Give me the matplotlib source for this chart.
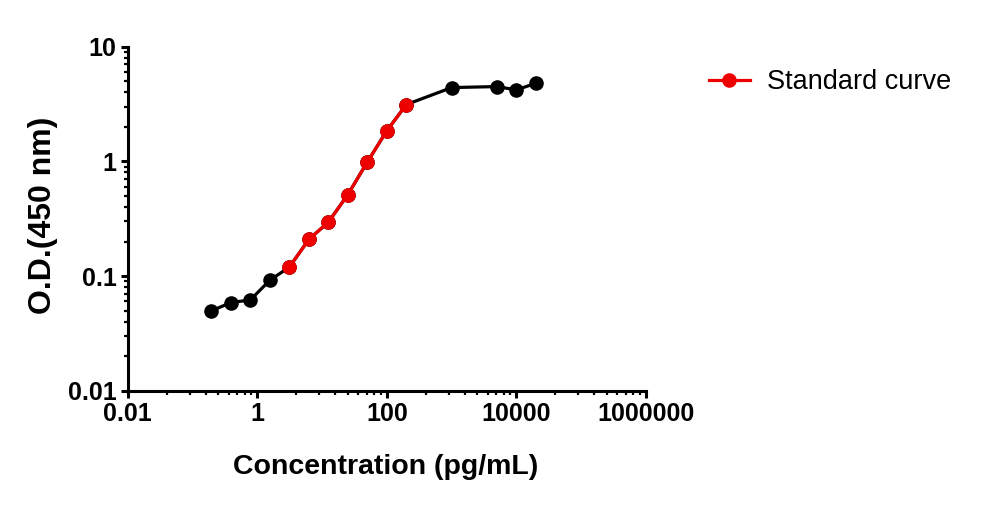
import numpy as np
import matplotlib
matplotlib.use("Agg")
import matplotlib.pyplot as plt
from matplotlib.ticker import FixedLocator, FuncFormatter, NullFormatter

plt.rcParams['font.family'] = ['Liberation Sans', 'DejaVu Sans']

# concentraciones (pg/mL) y densidad optica
conc = [0.195, 0.39, 0.78, 1.56, 3.125, 6.25, 12.5, 25, 50, 100, 200,
        1000, 5000, 10000, 20000]
od = [0.0496, 0.0587, 0.0618, 0.0918, 0.1197, 0.2085, 0.295, 0.513, 0.988,
      1.85, 3.13, 4.40, 4.49, 4.20, 4.80]
# tramo de la curva estandar (indices)
std_start, std_end = 4, 10

x_major = [0.01, 1, 100, 10000, 1000000]
y_major = [0.01, 0.1, 1, 10]

fig = plt.figure(figsize=(9.81, 5.07), dpi=100)
ax = fig.add_axes([0.1302, 0.2294, 0.5283, 0.6785])

# linea negra completa y tramo rojo encima
ax.plot(conc, od, color='black', lw=2.3, marker='o', ms=10.5,
        markeredgewidth=0, zorder=3, clip_on=False)
ax.plot(conc[std_start:std_end + 1], od[std_start:std_end + 1], color='#ee0000',
        lw=2.3, marker='o', ms=10.5, markeredgewidth=0, zorder=4,
        clip_on=False, label='Standard curve')

ax.set_xscale('log')
ax.set_yscale('log')
ax.set_xlim(0.01, 1000000)
ax.set_ylim(0.01, 10)

fmt = FuncFormatter(lambda v, p: f'{v:.10g}')
ax.xaxis.set_major_locator(FixedLocator(x_major))
ax.yaxis.set_major_locator(FixedLocator(y_major))
ax.xaxis.set_major_formatter(fmt)
ax.yaxis.set_major_formatter(fmt)

# ticks menores: GraphPad reparte 2..9 dentro de cada intervalo de 100x
x_minor = [10 ** (np.log10(m) + 2 * np.log10(k)) for m in x_major[:-1] for k in range(2, 10)]
y_minor = [m * k for m in y_major[:-1] for k in range(2, 10)]
ax.xaxis.set_minor_locator(FixedLocator(x_minor))
ax.yaxis.set_minor_locator(FixedLocator(y_minor))
ax.xaxis.set_minor_formatter(NullFormatter())
ax.yaxis.set_minor_formatter(NullFormatter())

for s in ['top', 'right']:
    ax.spines[s].set_visible(False)
for s in ['left', 'bottom']:
    ax.spines[s].set_linewidth(2.2)

ax.tick_params(which='major', direction='out', length=5, width=2.2, pad=3,
               labelsize=18)
ax.tick_params(which='minor', direction='out', length=3, width=1.6)
for lab in ax.get_xticklabels() + ax.get_yticklabels():
    lab.set_fontweight('bold')

ax.set_xlabel('Concentration (pg/mL)', fontsize=20.5, fontweight='bold')
ax.set_ylabel('O.D.(450 nm)', fontsize=23, fontweight='bold')
ax.xaxis.set_label_coords(0.497, -0.184)
ax.yaxis.set_label_coords(-0.134, 0.51)

fig.legend(loc='center left', bbox_to_anchor=(0.7227, 0.8383), frameon=False,
           fontsize=19.5, handlelength=1.5, handletextpad=0.65, borderpad=0,
           borderaxespad=0)

fig.savefig('out.png', dpi=100)
